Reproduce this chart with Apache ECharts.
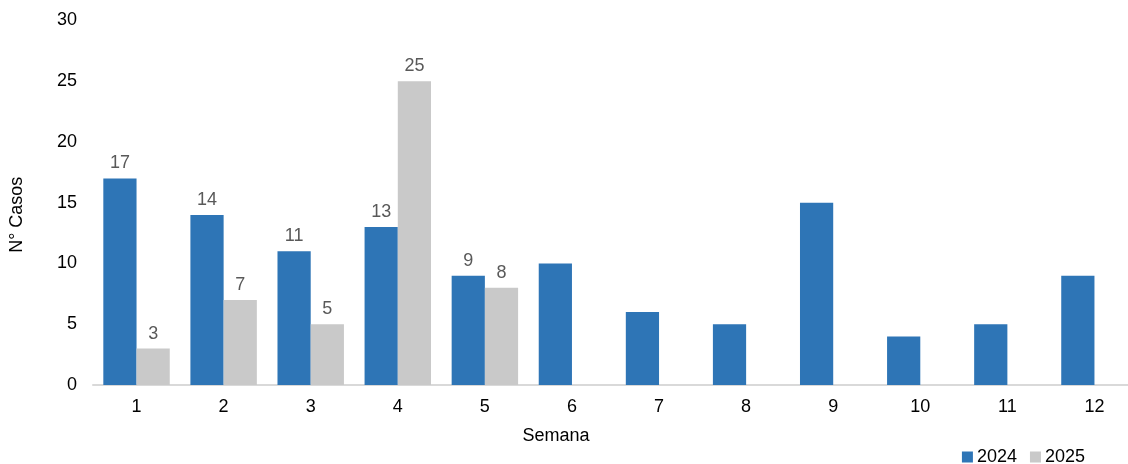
<!DOCTYPE html>
<html>
<head>
<meta charset="utf-8">
<script src="https://cdn.jsdelivr.net/npm/echarts@6/dist/echarts.min.js"></script>
<style>
html,body{margin:0;padding:0;background:#fff;overflow:hidden;width:1128px;height:464px;}
#c{width:1160px;height:464px;}
</style>
</head>
<body>
<div id="c"></div>
<script>
const categories = ['1','2','3','4','5','6','7','8','9','10','11','12'];
const values2024 = [17, 14, 11, 13, 9, 10, 6, 5, 15, 4, 5, 9];
const values2025 = [3, 7, 5, 25, 8, null, null, null, null, null, null, null];
const labeled2024 = [true, true, true, true, true, false, false, false, false, false, false, false];
const yTicks = [0, 5, 10, 15, 20, 25, 30];

const FONT = '"Liberation Sans", Arial, sans-serif';
const chart = echarts.init(document.getElementById('c'), null, {renderer: 'canvas'});
const labelStyle = {show: true, position: 'top', color: '#595959', fontSize: 18, fontFamily: FONT, distance: 6};

chart.setOption({
  animation: false,
  textStyle: {fontFamily: FONT},
  grid: {left: 93, right: 22, top: 20.5, bottom: 79, containLabel: false},
  legend: {
    data: ['2024', '2025'],
    right: 75, bottom: -2, padding: 0,
    itemWidth: 11, itemHeight: 11, itemGap: 13,
    icon: 'rect',
    textStyle: {fontSize: 18, color: '#000', fontFamily: FONT, padding: [0, 0, 0, -1]}
  },
  xAxis: {
    type: 'category',
    data: categories,
    name: 'Semana',
    nameLocation: 'middle',
    nameGap: 42,
    nameTextStyle: {fontSize: 18, color: '#000', fontFamily: FONT, padding: [0, 119, 0, 0]},
    axisLine: {lineStyle: {color: '#D9D9D9', width: 2}},
    axisTick: {show: false},
    axisLabel: {fontSize: 18, color: '#000', margin: 13, fontFamily: FONT}
  },
  yAxis: {
    type: 'value',
    min: yTicks[0], max: yTicks[yTicks.length - 1], interval: 5,
    name: 'N° Casos',
    nameLocation: 'middle',
    nameGap: 67,
    nameTextStyle: {fontSize: 18, color: '#000', fontFamily: FONT, padding: [0, 24, 0, 0]},
    axisLine: {show: false},
    axisTick: {show: false},
    splitLine: {show: false},
    axisLabel: {fontSize: 18, color: '#000', margin: 16, fontFamily: FONT}
  },
  series: [
    {
      name: '2024', type: 'bar',
      data: values2024.map((v, i) => ({value: v, label: {show: labeled2024[i]}})),
      itemStyle: {color: '#2E75B6'},
      barGap: '0%', barCategoryGap: '23.7%',
      label: labelStyle
    },
    {
      name: '2025', type: 'bar',
      data: values2025,
      itemStyle: {color: '#C9C9C9'},
      barGap: '0%', barCategoryGap: '23.7%',
      label: labelStyle
    }
  ]
});
</script>
</body>
</html>
